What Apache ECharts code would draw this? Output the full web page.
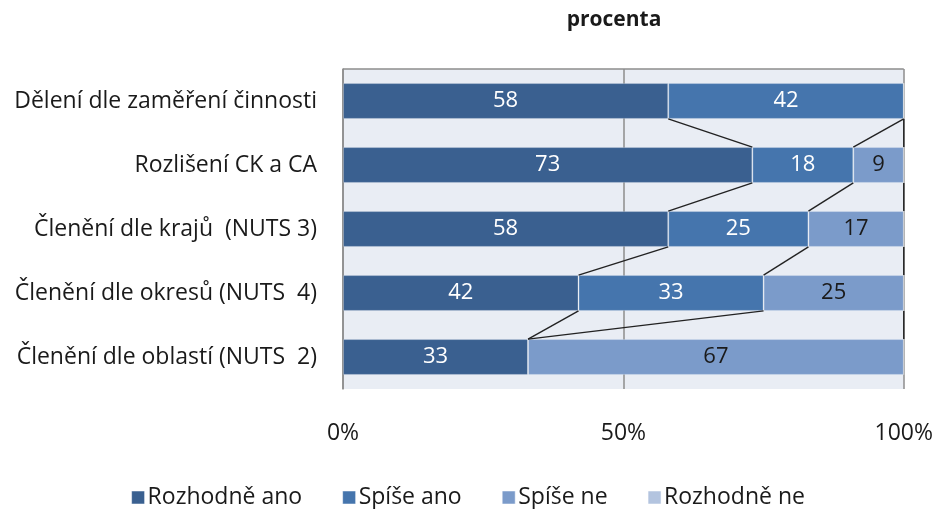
<!DOCTYPE html>
<html>
<head>
<meta charset="utf-8">
<script src="https://cdn.jsdelivr.net/npm/echarts@6/dist/echarts.min.js"></script>
<style>
  html, body { margin: 0; padding: 0; background: #fff; }
  #chart { width: 936px; height: 509px; }
</style>
</head>
<body>
<div id="chart"></div>
<script>
const categories = [
    'Dělení dle zaměření činnosti',
    'Rozlišení CK a CA',
    'Členění dle krajů  (NUTS 3)',
    'Členění dle okresů (NUTS  4)',
    'Členění dle oblastí (NUTS  2)'
];
const seriesNames = ['Rozhodně ano', 'Spíše ano', 'Spíše ne', 'Rozhodně ne'];
const rozhodneAno = [58, 73, 58, 42, 33];
const spiseAno = [42, 18, 25, 33, 0];
const spiseNe = [0, 9, 17, 25, 67];
const rozhodneNe = [0, 0, 0, 0, 0];
const xTicks = [0, 50, 100];

const colors = ['#3a6090', '#4575ad', '#7b9bca', '#b3c4df'];
const labelColors = ['#ffffff', '#ffffff', '#1a1a1a', '#1a1a1a'];
const FONT = 'Open Sans';
const BAR_RATIO = 0.56;

const chart = echarts.init(document.getElementById('chart'));

const values = [rozhodneAno, spiseAno, spiseNe, rozhodneNe];

// cumulative ends of each series, used for the connecting series lines
const cumulative = values.map((_, s) =>
    categories.map((_, i) => values.slice(0, s + 1).reduce((a, arr) => a + arr[i], 0))
);
const seriesLineData = [];
for (let s = 0; s < 3; s++) {
    for (let i = 0; i < categories.length - 1; i++) {
        seriesLineData.push([cumulative[s][i], i, cumulative[s][i + 1], i + 1]);
    }
}

const barSeries = seriesNames.map((name, s) => ({
    name: name,
    type: 'bar',
    stack: 'total',
    barWidth: (BAR_RATIO * 100) + '%',
    data: values[s],
    itemStyle: { color: colors[s], borderColor: 'rgba(255,255,255,0.25)', borderWidth: 1 },
    label: {
        show: true,
        position: 'inside',
        color: labelColors[s],
        fontFamily: FONT,
        fontSize: 22,
        formatter: p => p.value > 0 ? p.value : ''
    },
    emphasis: { disabled: true }
}));

const option = {
    animation: false,
    textStyle: { fontFamily: FONT },
    title: {
        text: 'procenta',
        left: 609,
        top: 5,
        textAlign: 'center',
        textStyle: { fontFamily: FONT, fontSize: 21, fontWeight: 'bold', color: '#1a1a1a' }
    },
    legend: {
        bottom: -5,
        left: 'center',
        itemWidth: 13,
        itemHeight: 13,
        itemGap: 40,
        icon: 'rect',
        textStyle: { fontFamily: FONT, fontSize: 23, color: '#1a1a1a', padding: [0, 0, 0, -2] },
        data: seriesNames.map((n, s) => ({ name: n, itemStyle: { color: colors[s], borderColor: 'rgba(255,255,255,0.5)', borderWidth: 1 } }))
    },
    grid: {
        left: 343,
        right: 31,
        top: 69,
        bottom: 120,
        show: true,
        backgroundColor: '#e9edf4',
        borderWidth: 0
    },
    xAxis: {
        type: 'value',
        min: 0,
        max: 100,
        interval: 50,
        axisLine: { show: false },
        axisTick: { show: false },
        splitLine: { show: true, lineStyle: { color: '#8c8c8c', width: 1.5 } },
        axisLabel: {
            margin: 33,
            fontFamily: FONT,
            fontSize: 23,
            color: '#1a1a1a',
            formatter: v => xTicks.includes(v) ? v + '%' : ''
        }
    },
    yAxis: {
        type: 'category',
        inverse: true,
        data: categories,
        axisLine: { show: true, lineStyle: { color: '#8c8c8c', width: 1.5 } },
        axisTick: { show: false },
        splitLine: { show: false },
        axisLabel: {
            margin: 26,
            fontFamily: FONT,
            fontSize: 23,
            color: '#1a1a1a'
        }
    },
    series: barSeries.concat([{
        type: 'custom',
        name: 'seriesLines',
        silent: true,
        z: 5,
        data: seriesLineData,
        encode: { x: [0, 2], y: [1, 3] },
        renderItem: (params, api) => {
            const p1 = api.coord([api.value(0), api.value(1)]);
            const p2 = api.coord([api.value(2), api.value(3)]);
            const half = api.size([0, 1])[1] * BAR_RATIO / 2;
            return {
                type: 'line',
                shape: { x1: p1[0], y1: p1[1] + half, x2: p2[0], y2: p2[1] - half },
                style: { stroke: '#222', lineWidth: 1.4 }
            };
        }
    }, {
        // top border line of the plot area
        type: 'custom',
        silent: true,
        data: [[0, 100]],
        renderItem: (params, api) => {
            const a = api.coord([api.value(0), 0]);
            const b = api.coord([api.value(1), 0]);
            const half = api.size([0, 1])[1] / 2;
            return {
                type: 'line',
                shape: { x1: a[0], y1: a[1] - half, x2: b[0], y2: b[1] - half },
                style: { stroke: '#8c8c8c', lineWidth: 1.5 }
            };
        }
    }])
};

chart.setOption(option);
</script>
</body>
</html>
